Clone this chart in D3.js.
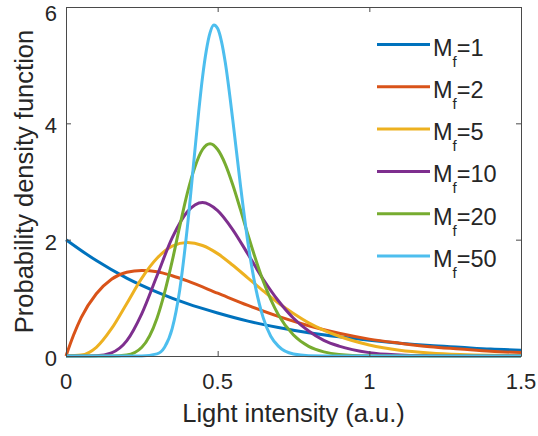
<!DOCTYPE html>
<html>
<head>
<meta charset="utf-8">
<script src="https://cdn.jsdelivr.net/npm/d3@7"></script>
<style>
  body { margin: 0; background: #fff; }
  text { font-family: Arial, 'Liberation Sans', Helvetica, sans-serif; fill: #262626; }
</style>
</head>
<body>
<svg id="chart" width="538" height="436"></svg>
<script>
/* globals d3 */

// values
const mfLabels = ['1', '2', '5', '10', '20', '50'];
const colors = ['#0072BD', '#D95319', '#EDB120', '#7E2F8E', '#77AC30', '#4DBEEE'];

const xM1 = [0, 0.1, 0.2, 0.3, 0.4, 0.5, 0.6, 0.7, 0.8, 0.9, 1.0, 1.1, 1.2, 1.3, 1.4, 1.5];
const yM1 = [2.00, 1.64, 1.34, 1.10, 0.90, 0.74, 0.60, 0.49, 0.40, 0.33, 0.27, 0.22, 0.18, 0.15, 0.12, 0.10];

const xM2 = [0, 0.025, 0.05, 0.1, 0.15, 0.2, 0.25, 0.3, 0.35, 0.4, 0.5, 0.6, 0.7, 0.8, 0.9, 1.0, 1.1, 1.2, 1.3, 1.4, 1.5];
const yM2 = [0, 0.36, 0.66, 1.07, 1.32, 1.44, 1.47, 1.45, 1.38, 1.29, 1.08, 0.87, 0.68, 0.52, 0.39, 0.29, 0.22, 0.16, 0.12, 0.08, 0.06];

const xM5 = [0, 0.05, 0.1, 0.15, 0.2, 0.25, 0.3, 0.35, 0.4, 0.45, 0.5, 0.55, 0.6, 0.65, 0.7, 0.75, 0.8, 0.9, 1.0, 1.1, 1.2, 1.3, 1.4, 1.5];
const yM5 = [0, 0.016, 0.15, 0.47, 0.90, 1.34, 1.68, 1.89, 1.95, 1.90, 1.76, 1.56, 1.34, 1.12, 0.91, 0.73, 0.57, 0.34, 0.19, 0.10, 0.053, 0.027, 0.013, 0.006];

const xM10 = [0, 0.05, 0.1, 0.15, 0.2, 0.25, 0.3, 0.35, 0.4, 0.45, 0.5, 0.55, 0.6, 0.65, 0.7, 0.75, 0.8, 0.85, 0.9, 1.0, 1.1, 1.2, 1.3, 1.5];
const yM10 = [0, 0, 0.004, 0.054, 0.26, 0.73, 1.38, 2.03, 2.48, 2.64, 2.50, 2.17, 1.75, 1.32, 0.95, 0.65, 0.43, 0.27, 0.17, 0.058, 0.019, 0.006, 0.002, 0];

const xM20 = [0, 0.15, 0.2, 0.25, 0.3, 0.325, 0.35, 0.375, 0.4, 0.425, 0.45, 0.475, 0.5, 0.525, 0.55, 0.575, 0.6, 0.65, 0.7, 0.75, 0.8, 0.85, 0.9, 1.0, 1.1, 1.5];
const yM20 = [0, 0.0005, 0.016, 0.15, 0.65, 1.09, 1.63, 2.23, 2.80, 3.25, 3.55, 3.65, 3.55, 3.30, 2.94, 2.52, 2.08, 1.29, 0.71, 0.36, 0.165, 0.071, 0.028, 0.004, 0, 0];

const xM50 = [0, 0.25, 0.3, 0.325, 0.35, 0.375, 0.4, 0.425, 0.4375, 0.45, 0.4625, 0.475, 0.4875, 0.5, 0.5125, 0.525, 0.55, 0.575, 0.6, 0.625, 0.65, 0.675, 0.7, 0.75, 0.8, 0.9, 1.5];
const yM50 = [0, 0.0007, 0.037, 0.15, 0.47, 1.14, 2.21, 3.54, 4.20, 4.79, 5.25, 5.56, 5.69, 5.63, 5.41, 5.05, 4.05, 2.94, 1.94, 1.18, 0.66, 0.34, 0.17, 0.033, 0.005, 0, 0];

const xTicks = [0, 0.5, 1, 1.5];
const yTicks = [0, 2, 4, 6];

const seriesX = [xM1, xM2, xM5, xM10, xM20, xM50];
const seriesY = [yM1, yM2, yM5, yM10, yM20, yM50];

const series = mfLabels.map((m, i) => ({
  label: m,
  color: colors[i],
  points: seriesX[i].map((x, j) => ({ x, y: seriesY[i][j] }))
}));

const svg = d3.select('#chart');
const plot = { left: 66, top: 7, right: 521, bottom: 356 };
const axisColor = '#4a4a4a';

const xScale = d3.scaleLinear().domain([0, 1.5]).range([plot.left, plot.right]);
const yScale = d3.scaleLinear().domain([0, 6]).range([plot.bottom, plot.top]);

// Curves
const line = d3.line()
  .curve(d3.curveMonotoneX)
  .x(d => xScale(d.x))
  .y(d => yScale(d.y));

svg.append('g').selectAll('path')
  .data(series)
  .enter().append('path')
  .attr('d', d => line(d.points))
  .attr('fill', 'none')
  .attr('stroke', d => d.color)
  .attr('stroke-width', 3)
  .attr('stroke-linejoin', 'round');

// Box and inward ticks, MATLAB style
const tickLen = 5;
svg.append('g')
  .attr('transform', `translate(0,${plot.bottom})`)
  .call(d3.axisBottom(xScale).tickValues(xTicks).tickSizeInner(-tickLen).tickSizeOuter(0).tickFormat(''))
  .call(g => g.selectAll('line, path').attr('stroke', axisColor));
svg.append('g')
  .attr('transform', `translate(0,${plot.top})`)
  .call(d3.axisTop(xScale).tickValues(xTicks).tickSizeInner(-tickLen).tickSizeOuter(0).tickFormat(''))
  .call(g => g.selectAll('line, path').attr('stroke', axisColor));
svg.append('g')
  .attr('transform', `translate(${plot.left},0)`)
  .call(d3.axisLeft(yScale).tickValues(yTicks).tickSizeInner(-tickLen).tickSizeOuter(0).tickFormat(''))
  .call(g => g.selectAll('line, path').attr('stroke', axisColor));
svg.append('g')
  .attr('transform', `translate(${plot.right},0)`)
  .call(d3.axisRight(yScale).tickValues(yTicks).tickSizeInner(-tickLen).tickSizeOuter(0).tickFormat(''))
  .call(g => g.selectAll('line, path').attr('stroke', axisColor));

// Tick labels
svg.append('g').selectAll('text')
  .data(xTicks)
  .enter().append('text')
  .attr('x', d => xScale(d))
  .attr('y', 389)
  .attr('text-anchor', 'middle')
  .attr('font-size', 22)
  .text(d => d3.format('~g')(d));

// top label kept just inside the page
svg.append('g').selectAll('text')
  .data(yTicks)
  .enter().append('text')
  .attr('x', 57)
  .attr('y', d => Math.max(yScale(d) + 10, 20.5))
  .attr('text-anchor', 'end')
  .attr('font-size', 22)
  .text(d => d);

// Axis titles
svg.append('text')
  .attr('x', (plot.left + plot.right) / 2)
  .attr('y', 422)
  .attr('text-anchor', 'middle')
  .attr('font-size', 25.5)
  .text('Light intensity (a.u.)');

svg.append('text')
  .attr('transform', `translate(33,${(plot.top + plot.bottom) / 2}) rotate(-90)`)
  .attr('text-anchor', 'middle')
  .attr('font-size', 25.5)
  .text('Probability density function');

// Legend
const legend = svg.append('g').selectAll('g')
  .data(series)
  .enter().append('g')
  .attr('transform', (d, i) => `translate(377,${44.5 + i * 42.3})`);

legend.append('line')
  .attr('x1', 0).attr('x2', 53)
  .attr('stroke', d => d.color)
  .attr('stroke-width', 3);

const label = legend.append('text')
  .attr('x', 56)
  .attr('y', 11)
  .attr('font-size', 23.5);
label.append('tspan').text('M');
label.append('tspan').attr('font-size', 15).attr('dy', 11).text('f');
label.append('tspan').attr('dy', -11).text(d => '=' + d.label);
</script>
</body>
</html>
